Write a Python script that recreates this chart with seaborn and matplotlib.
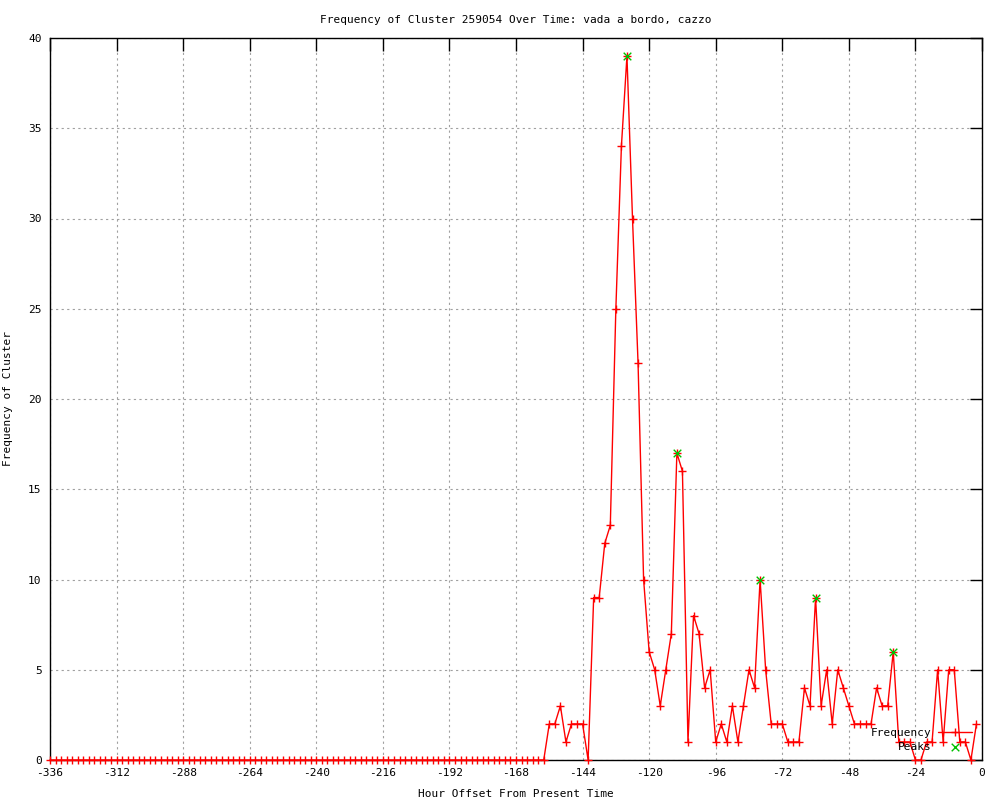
import matplotlib
matplotlib.use("Agg")
import matplotlib.pyplot as plt
import seaborn as sns
import pandas as pd

# ---- data ----
hours = list(range(-336, 0, 2))
frequency = [
    0, 0, 0, 0, 0, 0, 0, 0, 0, 0, 0, 0, 0, 0, 0, 0, 0, 0, 0, 0,
    0, 0, 0, 0, 0, 0, 0, 0, 0, 0, 0, 0, 0, 0, 0, 0, 0, 0, 0, 0,
    0, 0, 0, 0, 0, 0, 0, 0, 0, 0, 0, 0, 0, 0, 0, 0, 0, 0, 0, 0,
    0, 0, 0, 0, 0, 0, 0, 0, 0, 0, 0, 0, 0, 0, 0, 0, 0, 0, 0, 0,
    0, 0, 0, 0, 0, 0, 0, 0, 0, 0,
    2, 2, 3, 1, 2, 2, 2, 0, 9, 9, 12, 13, 25, 34, 39, 30, 22, 10, 6, 5,
    3, 5, 7, 17, 16, 1, 8, 7, 4, 5, 1, 2, 1, 3, 1, 3, 5, 4, 10, 5,
    2, 2, 2, 1, 1, 1, 4, 3, 9, 3, 5, 2, 5, 4, 3, 2, 2, 2, 2, 4,
    3, 3, 6, 1, 1, 1, 0, 0, 1, 1, 5, 1, 5, 5, 1, 1, 0, 2,
]
peak_hours = [-128, -110, -80, -60, -32]
peak_values = [39, 17, 10, 9, 6]

title = "Frequency of Cluster 259054 Over Time: vada a bordo, cazzo"
xlabel = "Hour Offset From Present Time"
ylabel = "Frequency of Cluster"
xticks = list(range(-336, 1, 24))
yticks = list(range(0, 41, 5))

df = pd.DataFrame({"hour": hours, "freq": frequency})
peaks = pd.DataFrame({"hour": peak_hours, "freq": peak_values})

# ---- style ----
sns.set_style("white")
plt.rcParams["font.family"] = ["DejaVu Sans Mono"]
plt.rcParams["axes.unicode_minus"] = False
plt.rcParams["text.color"] = "black"
plt.rcParams["axes.labelcolor"] = "black"
plt.rcParams["xtick.color"] = "black"
plt.rcParams["ytick.color"] = "black"

fig = plt.figure(figsize=(10, 8), dpi=100)
ax = fig.add_axes([0.05, 0.05, 0.932, 0.9025])

RED = "#ff0000"
GREEN = "#00c000"

sns.lineplot(data=df, x="hour", y="freq", ax=ax, color=RED, linewidth=1.0,
             marker="+", markersize=5.5, markeredgewidth=1.0, markeredgecolor=RED,
             label="Frequency", clip_on=False, zorder=3)
sns.scatterplot(data=peaks, x="hour", y="freq", ax=ax, color=GREEN, marker="x",
                s=30, linewidth=1.0, label="Peaks", zorder=4, clip_on=False)

ax.set_xlim(-336, 0)
ax.set_ylim(0, 40)
ax.set_xticks(xticks)
ax.set_yticks(yticks)
ax.grid(True, color="#a0a0a0", linestyle=(0, (2, 3)), linewidth=0.8)
ax.set_axisbelow(True)
for s in ax.spines.values():
    s.set_color("black")
    s.set_linewidth(1.0)
ax.tick_params(direction="in", length=9, width=1.0, top=True, right=True,
               labelsize=8, pad=6, colors="black")

ax.set_title(title, fontsize=8, pad=11, color="black")
ax.set_xlabel(xlabel, fontsize=8, labelpad=8, color="black")
ax.set_ylabel(ylabel, fontsize=8, color="black")
ax.yaxis.set_label_coords(-0.040, 0.5)

leg = ax.legend(loc="lower right", bbox_to_anchor=(0.99, 0.010), frameon=False,
                markerfirst=False, fontsize=8, handlelength=3.0,
                labelspacing=0.3, borderaxespad=0, borderpad=0.1,
                handletextpad=0.6, labelcolor="black")

fig.savefig("out.png", dpi=100)
